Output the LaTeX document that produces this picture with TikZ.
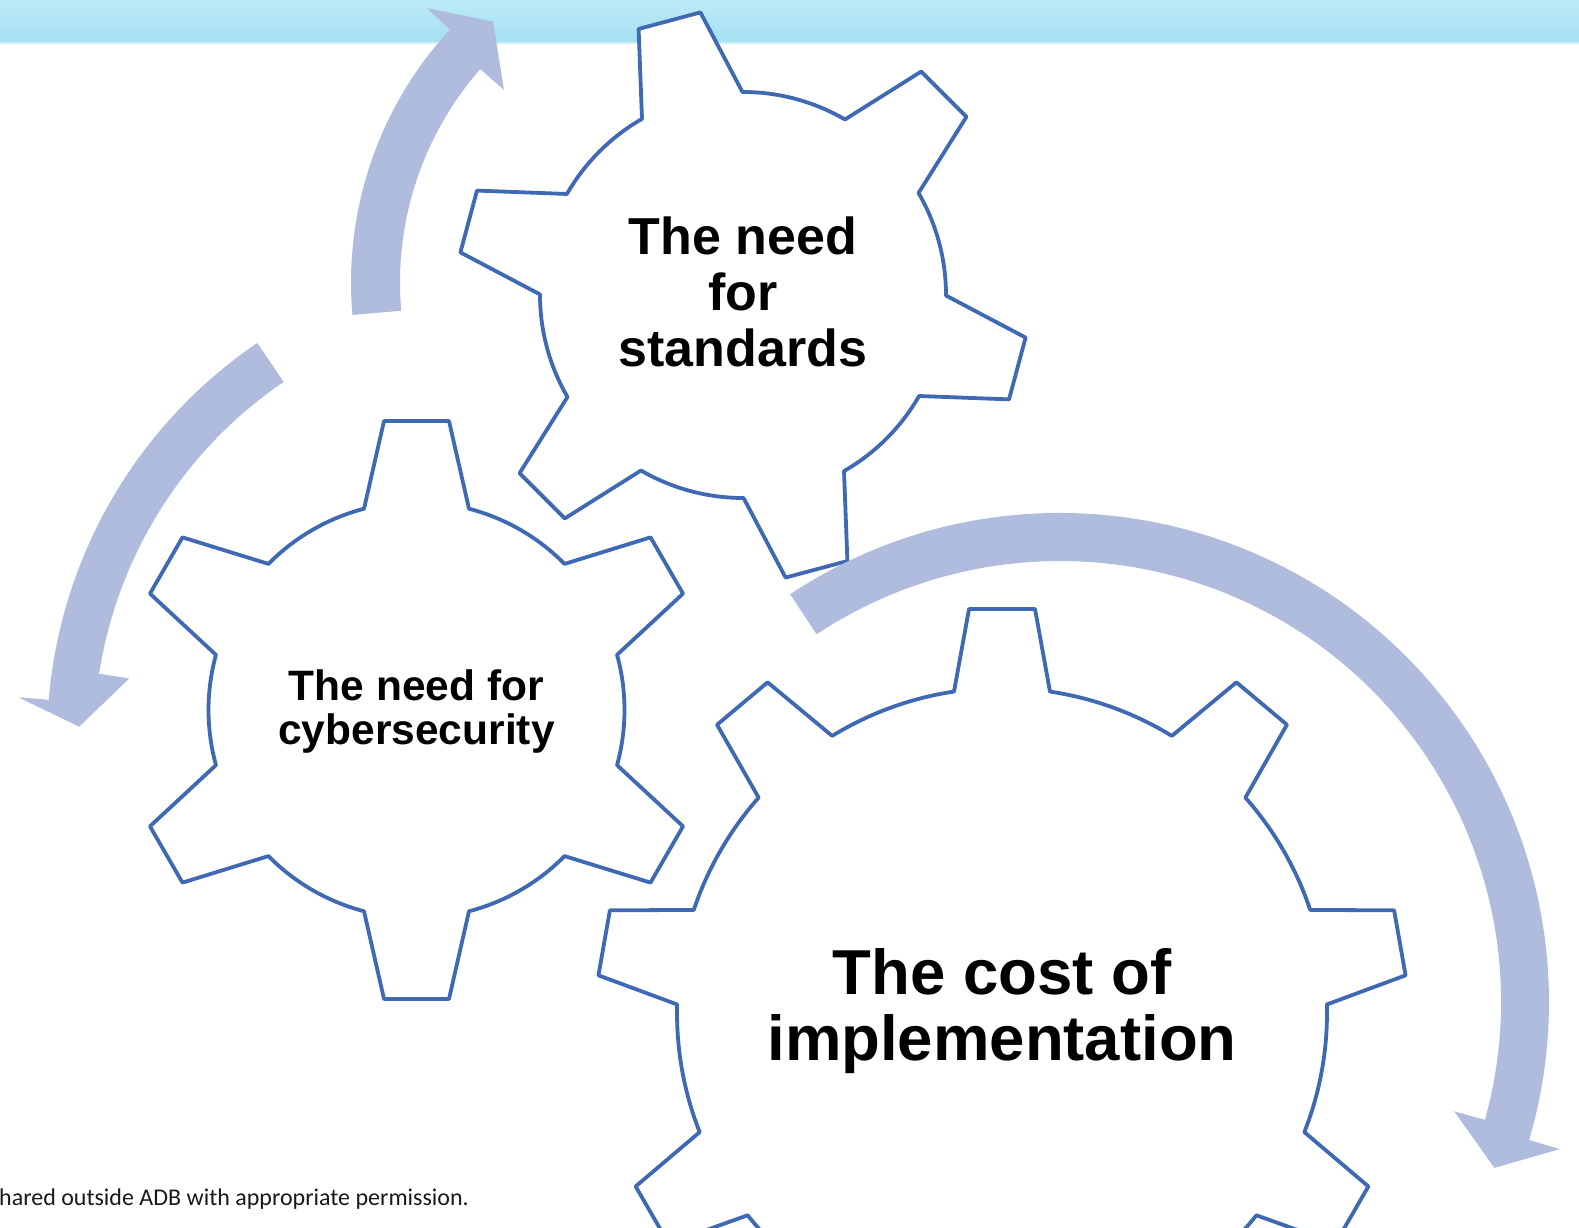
\documentclass[tikz,border=0pt]{standalone}
\usepackage{fontspec}
\setmainfont{Liberation Sans}
\newfontfamily\notefont{Carlito}
\usepackage{tikz}
\usetikzlibrary{calc}

% cog outline: #1 centre, #2 teeth, #3 first tooth angle, #4 root radius,
% #5 tip radius, #6 half width at tip, #7 half width at root
\newcommand{\cogwheel}[7]{%
  \pgfmathsetmacro{\cwroot}{asin(#7/#4)}%
  \pgfmathsetmacro{\cwtip}{atan(#6/#5)}%
  \pgfmathsetmacro{\cwrad}{veclen(#5,#6)}%
  \pgfmathsetmacro{\cwstep}{360/#2}%
  \pgfmathtruncatemacro{\cwlast}{#2-1}%
  \filldraw[cog] ([shift={(#1)}]{#3-\cwroot}:#4)
    \foreach \k in {0,...,\cwlast}{
      -- ([shift={(#1)}]{#3+\k*\cwstep-\cwtip}:\cwrad)
      -- ([shift={(#1)}]{#3+\k*\cwstep+\cwtip}:\cwrad)
      -- ([shift={(#1)}]{#3+\k*\cwstep+\cwroot}:#4)
      arc[start angle={#3+\k*\cwstep+\cwroot}, end angle={#3+(\k+1)*\cwstep-\cwroot}, radius=#4]
    } -- cycle;
}

% curved block arrow: #1 centre, #2 inner radius, #3 outer radius, #4 tail angle,
% #5 outer barb angle, #6 inner barb angle, #7 tip (angle:radius), #8 half width of the head
\newcommand{\turnarrow}[8]{%
  \pgfmathsetmacro{\tamid}{(#2+#3)/2}%
  \pgfmathsetmacro{\taout}{\tamid+#8}%
  \pgfmathsetmacro{\tain}{\tamid-#8}%
  \fill[turn] ([shift={(#1)}]#4:#3)
    arc[start angle=#4, end angle=#5, radius=#3]
    -- ([shift={(#1)}]#5:\taout)
    -- ([shift={(#1)}]#7)
    -- ([shift={(#1)}]#6:\tain)
    -- ([shift={(#1)}]#6:#2)
    arc[start angle=#6, end angle=#4, radius=#2]
    -- cycle;
}

\begin{document}
\begin{tikzpicture}[x=1pt,y=1pt,
    cog/.style={draw=cogline,line width=3.8pt,fill=white,line join=round},
    turn/.style={fill=turnfill},
    gearlabel/.style={align=center,anchor=base,inner sep=0pt}]

    \definecolor{cogline}{RGB}{63,105,179}
    \definecolor{turnfill}{RGB}{175,188,222}
    \definecolor{bandtop}{RGB}{188,234,247}
    \definecolor{bandbottom}{RGB}{165,223,241}
    \definecolor{notegray}{RGB}{25,25,25}

    \clip (0,0) rectangle (1579,1228);
    \fill[white] (0,0) rectangle (1579,1228);

    % header band
    \shade[top color=bandtop,bottom color=bandbottom] (0,1185) rectangle (1579,1228);
    \draw[color=bandtop!70!white,line width=1.5pt] (0,1185) -- (1579,1185);

    % gear centres
    \coordinate (stdc) at (743,933);
    \coordinate (cyberc) at (416.5,518);
    \coordinate (costc) at (1002,215);

    \cogwheel{stdc}{6}{45}{203}{284}{32}{52}
    \cogwheel{cyberc}{6}{30}{208}{289}{32.5}{52.5}
    \cogwheel{costc}{9}{90}{325}{404}{33}{48}

    % arrows running round the gears
    \turnarrow{724,945.5}{324}{373}{185}{137.3}{138.8}{131.5:348.5}{56}
    \turnarrow{527,488}{433}{480}{124.2}{175.2}{171.2}{178.3:448}{54}
    \turnarrow{1060,226}{441}{489}{123.5}{-16.4}{-15.5}{-20.9:465}{56}

    \node[gearlabel,font=\bfseries\fontsize{52}{56}\selectfont] (std) at (stdc |- 0,861.4) {The need\\for\\standards};
    \node[gearlabel,font=\bfseries\fontsize{42.5}{44}\selectfont] (cyber) at (cyberc |- 0,483.6) {The need for\\cybersecurity};
    \node[gearlabel,font=\bfseries\fontsize{63.5}{65.4}\selectfont] (cost) at (costc |- 0,167.6) {The cost of\\implementation};

    \node[anchor=base west,inner sep=0pt,text=notegray,font=\notefont\fontsize{24}{28}\selectfont] (note) at (-1,22) {hared outside ADB with appropriate permission.};

\end{tikzpicture}
\end{document}
